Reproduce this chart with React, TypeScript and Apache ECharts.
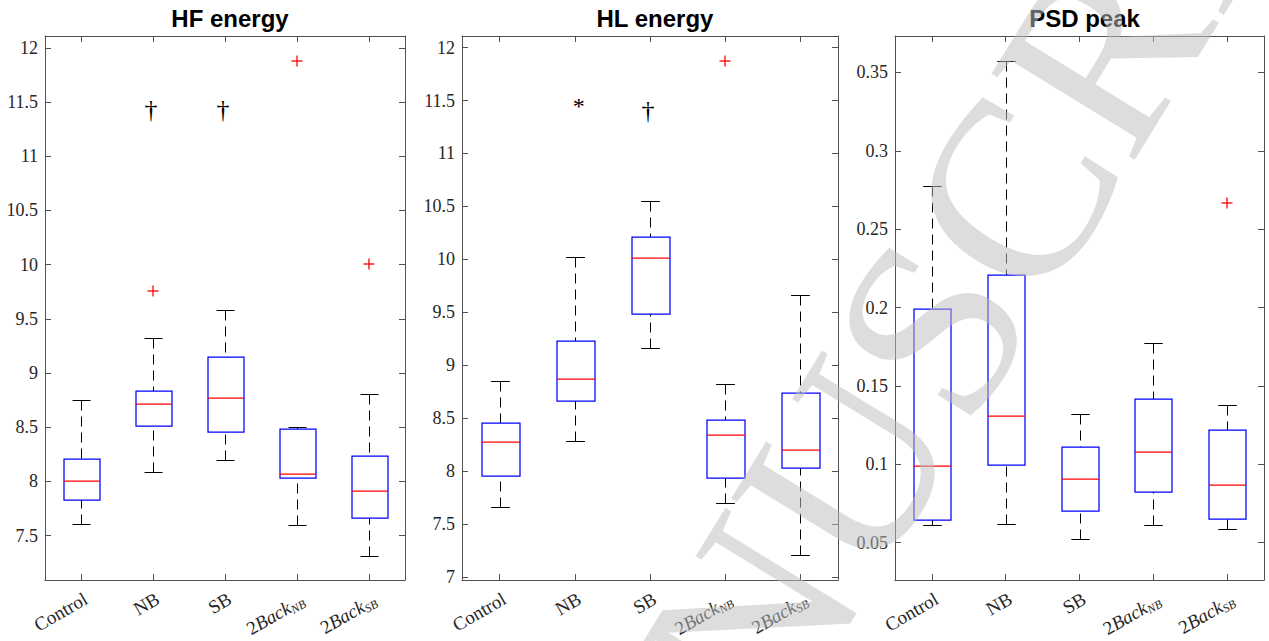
import React, { useEffect, useRef } from 'react';
import * as echarts from 'echarts';

const categories = ['Control', 'NB', 'SB', '2BackNB', '2BackSB'];

// each row: [lower whisker, Q1, median, Q3, upper whisker]
const hfBoxes = [
  [7.61, 7.83, 8.0, 8.21, 8.75],
  [8.09, 8.51, 8.71, 8.83, 9.32],
  [8.2, 8.46, 8.77, 9.15, 9.58],
  [7.6, 8.03, 8.07, 8.48, 8.505],
  [7.31, 7.66, 7.91, 8.23, 8.81],
];
const hfOutliers = [[1, 9.76], [3, 11.88], [4, 10.01]];
const hfMarks = [[1, 11.43], [2, 11.43]];
const hfMarkSymbols = ['†', '†'];

const hlBoxes = [
  [7.66, 7.955, 8.27, 8.455, 8.85],
  [8.28, 8.66, 8.87, 9.23, 10.02],
  [9.16, 9.48, 10.01, 10.21, 10.55],
  [7.7, 7.93, 8.34, 8.48, 8.82],
  [7.205, 8.025, 8.2, 8.74, 9.66],
];
const hlOutliers = [[3, 11.87]];
const hlMarks = [[1, 11.48], [2, 11.41]];
const hlMarkSymbols = ['*', '†'];

const psdBoxes = [
  [0.061, 0.0645, 0.0987, 0.199, 0.2774],
  [0.0619, 0.0997, 0.1309, 0.2207, 0.357],
  [0.0522, 0.07, 0.0906, 0.1108, 0.1324],
  [0.0615, 0.0821, 0.1078, 0.1415, 0.1776],
  [0.0587, 0.0649, 0.0867, 0.1216, 0.1377],
];
const psdOutliers = [[4, 0.2666]];
const psdMarks: number[][] = [];
const psdMarkSymbols: string[] = [];

const hfTicks = [7.5, 8, 8.5, 9, 9.5, 10, 10.5, 11, 11.5, 12];
const hlTicks = [7, 7.5, 8, 8.5, 9, 9.5, 10, 10.5, 11, 11.5, 12];
const psdTicks = [0.05, 0.1, 0.15, 0.2, 0.25, 0.3, 0.35];

const hfRange = [7.09, 12.11];
const hlRange = [6.97, 12.11];
const psdRange = [0.0262, 0.3732];

const titles = ['HF energy', 'HL energy', 'PSD peak'];

const SERIF = '"Liberation Serif", "Times New Roman", serif';
const SANS = '"Liberation Sans", Arial, sans-serif';
const AXIS_COLOR = '#505050';
const BLUE = 'rgb(0,0,255)';
const RED = 'rgb(255,0,0)';
const BLACK = 'rgb(0,0,0)';

const crisp = (v: number) => Math.round(v) + 0.5;

const lineEl = (x1: number, y1: number, x2: number, y2: number, stroke: string, width: number, dashed: boolean) => ({
  type: 'line',
  shape: { x1, y1, x2, y2 },
  style: dashed
    ? { stroke, lineWidth: width, lineDash: [10, 6] }
    : { stroke, lineWidth: width },
});

function boxRender(params: any, api: any) {
  const x = api.value(0);
  const c = (v: number) => api.coord([x, v]);
  const pLo = c(api.value(1));
  const pQ1 = c(api.value(2));
  const pMed = c(api.value(3));
  const pQ3 = c(api.value(4));
  const pHi = c(api.value(5));
  const bw = api.size([1, 0])[0] * 0.5;
  const cx = crisp(pMed[0]);
  const half = bw / 2;
  const capHalf = bw / 4;
  const left = Math.round(cx - half);
  const right = left + Math.round(bw);
  const yQ3 = Math.round(pQ3[1]);
  const yQ1 = Math.round(pQ1[1]);
  const yMed = Math.round(pMed[1]);
  return {
    type: 'group',
    children: [
      lineEl(cx, crisp(pHi[1]), cx, yQ3, BLACK, 1, true),
      lineEl(cx, crisp(pLo[1]), cx, yQ1, BLACK, 1, true),
      lineEl(cx - capHalf, crisp(pHi[1]), cx + capHalf, crisp(pHi[1]), BLACK, 1, false),
      lineEl(cx - capHalf, crisp(pLo[1]), cx + capHalf, crisp(pLo[1]), BLACK, 1, false),
      {
        type: 'rect',
        shape: { x: left, y: yQ3, width: right - left, height: yQ1 - yQ3 },
        style: { fill: 'rgba(255,255,255,0)', stroke: BLUE, lineWidth: 1.25 },
      },
      lineEl(left, yMed, right, yMed, RED, 1.25, false),
    ],
  };
}

function outlierRender(params: any, api: any) {
  const p = api.coord([api.value(0), api.value(1)]);
  const x = Math.round(p[0]);
  const y = Math.round(p[1]);
  const r = 5.5;
  return {
    type: 'group',
    children: [
      lineEl(x - r, y, x + r, y, RED, 1.3, false),
      lineEl(x, y - r, x, y + r, RED, 1.3, false),
    ],
  };
}

function makeMarkRender(symbols: string[]) {
  return (params: any, api: any) => {
    const p = api.coord([api.value(0), api.value(1)]);
    const sym = symbols[params.dataIndex];
    const isStar = sym === '*';
    return {
      type: 'text',
      x: p[0] + (isStar ? 4 : -2),
      y: p[1] + (isStar ? 3 : 0),
      style: {
        text: sym,
        fill: BLACK,
        font: `${isStar ? 24 : 26}px ${SERIF}`,
        align: 'center',
        verticalAlign: 'middle',
      },
    };
  };
}

const grids = [
  { left: 45, top: 36, width: 360, height: 545 },
  { left: 462, top: 36, width: 376, height: 545 },
  { left: 895, top: 36, width: 369, height: 545 },
];

const panels = [
  { boxes: hfBoxes, outliers: hfOutliers, marks: hfMarks, symbols: hfMarkSymbols, ticks: hfTicks, range: hfRange },
  { boxes: hlBoxes, outliers: hlOutliers, marks: hlMarks, symbols: hlMarkSymbols, ticks: hlTicks, range: hlRange },
  { boxes: psdBoxes, outliers: psdOutliers, marks: psdMarks, symbols: psdMarkSymbols, ticks: psdTicks, range: psdRange },
];

function buildOption() {
  const grid = grids.map((g) => ({ ...g, containLabel: false, show: false }));
  const title = titles.map((t, i) => ({
    text: t,
    left: grids[i].left + grids[i].width / 2,
    top: 1,
    textAlign: 'center',
    textStyle: { fontFamily: SANS, fontWeight: 'bold', fontSize: 24, color: '#000' },
  }));
  const xAxis: any[] = [];
  const yAxis: any[] = [];
  panels.forEach((p, i) => {
    xAxis[i] = {
      type: 'category',
      gridIndex: i,
      data: categories,
      position: 'bottom',
      boundaryGap: true,
      axisLine: { show: true, onZero: false, lineStyle: { color: AXIS_COLOR, width: 1 } },
      axisTick: { show: true, inside: true, alignWithLabel: true, length: 6, lineStyle: { color: AXIS_COLOR } },
      splitLine: { show: false },
      axisLabel: {
        show: true,
        interval: 0,
        rotate: 30,
        margin: 9,
        verticalAlign: 'top',
        color: '#262626',
        fontFamily: SERIF,
        fontSize: 19,
        formatter: (v: string) => (v.startsWith('2Back') ? `{n|2}{it|Back}{sub|${v.slice(5)}}` : v),
        rich: {
          n: { fontFamily: SERIF, fontSize: 19, color: '#262626' },
          it: { fontFamily: SERIF, fontSize: 19, fontStyle: 'italic', color: '#262626' },
          sub: { fontFamily: SERIF, fontSize: 12, fontStyle: 'italic', color: '#262626', padding: [10, 0, 0, 0] },
        },
      },
    };
    xAxis[i + 3] = {
      type: 'category',
      gridIndex: i,
      data: categories,
      position: 'top',
      boundaryGap: true,
      axisLine: { show: true, onZero: false, lineStyle: { color: AXIS_COLOR, width: 1 } },
      axisTick: { show: true, inside: true, alignWithLabel: true, length: 6, lineStyle: { color: AXIS_COLOR } },
      axisLabel: { show: false },
      splitLine: { show: false },
    };
    yAxis[i] = {
      type: 'value',
      gridIndex: i,
      position: 'left',
      min: p.range[0],
      max: p.range[1],
      axisLine: { show: true, onZero: false, lineStyle: { color: AXIS_COLOR, width: 1 } },
      axisTick: { show: true, inside: true, length: 6, customValues: p.ticks, lineStyle: { color: AXIS_COLOR } },
      axisLabel: {
        show: true,
        customValues: p.ticks,
        margin: 7,
        color: '#262626',
        fontFamily: SERIF,
        fontSize: 18,
        formatter: (v: number) => String(v),
      },
      splitLine: { show: false },
    };
    yAxis[i + 3] = {
      type: 'value',
      gridIndex: i,
      position: 'right',
      min: p.range[0],
      max: p.range[1],
      axisLine: { show: true, onZero: false, lineStyle: { color: AXIS_COLOR, width: 1 } },
      axisTick: { show: true, inside: true, length: 6, customValues: p.ticks, lineStyle: { color: AXIS_COLOR } },
      axisLabel: { show: false },
      splitLine: { show: false },
    };
  });

  const series: any[] = [];
  panels.forEach((p, i) => {
    series.push({
      type: 'custom',
      xAxisIndex: i,
      yAxisIndex: i,
      renderItem: boxRender,
      encode: { x: 0, y: [1, 2, 3, 4, 5] },
      data: p.boxes.map((b, k) => [k, ...b]),
      silent: true,
    });
    series.push({
      type: 'custom',
      xAxisIndex: i,
      yAxisIndex: i,
      renderItem: outlierRender,
      encode: { x: 0, y: 1 },
      data: p.outliers,
      silent: true,
    });
    if (p.marks.length) {
      series.push({
        type: 'custom',
        xAxisIndex: i,
        yAxisIndex: i,
        renderItem: makeMarkRender(p.symbols),
        encode: { x: 0, y: 1 },
        data: p.marks,
        silent: true,
      });
    }
  });

  return {
    animation: false,
    backgroundColor: '#ffffff',
    title,
    grid,
    xAxis,
    yAxis,
    series,
    graphic: [
      {
        type: 'text',
        x: 916,
        y: 352,
        rotation: 1.02,
        z: 100,
        silent: true,
        style: {
          text: 'MANUSCRIPT',
          font: `255px ${SERIF}`,
          fill: 'rgba(190,190,190,0.52)',
          align: 'center',
          verticalAlign: 'middle',
        },
      },
    ],
  };
}

export default function App() {
  const ref = useRef<HTMLDivElement>(null);
  useEffect(() => {
    if (!ref.current) return;
    const chart = echarts.init(ref.current, undefined, { renderer: 'svg' });
    chart.setOption(buildOption() as any);
    return () => chart.dispose();
  }, []);
  return <div ref={ref} style={{ position: 'absolute', left: 0, top: 0, width: 1269, height: 641 }} />;
}
